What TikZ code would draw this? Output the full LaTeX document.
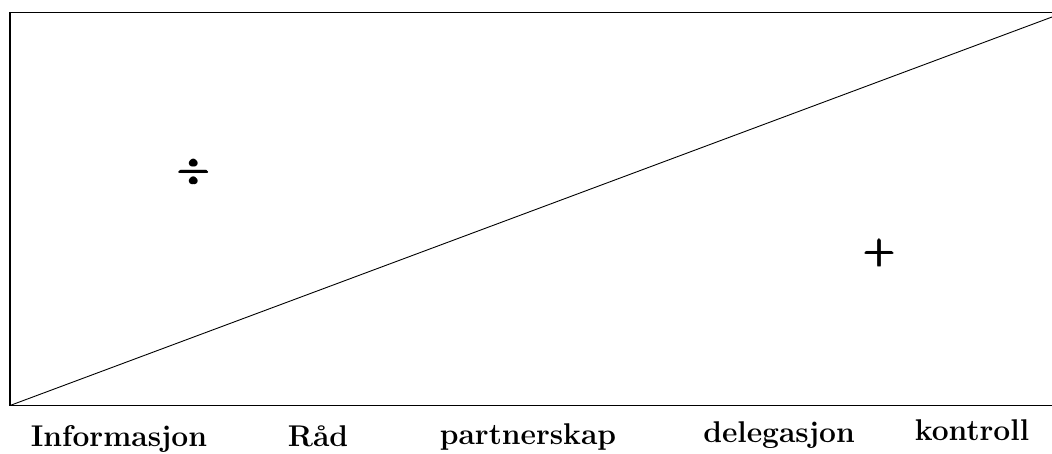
\documentclass[tikz,border=0pt]{standalone}
\usepackage{amsmath}
\usepackage{tikz}

\begin{document}
\begin{tikzpicture}[x=1pt,y=-1pt]
\tikzstyle{every node}+=[inner sep=0pt]
\tikzstyle{scalelabel}=[anchor=base,font=\fontsize{30}{32}\selectfont\bfseries]
\tikzstyle{signmark}=[font=\LARGE\boldmath,scale=2.1]
\useasboundingbox (0,0) rectangle (1052,453);
\coordinate (bl) at (10,405.5);
\coordinate (tr) at (1054,12.5);
\coordinate (tip) at (1052,17);
\draw [black,line width=1.6pt] (bl) rectangle (tr);
\draw [black,line width=0.9pt] (bl) -- (tip);
\node (minus) at (195,172) [signmark] {$\pmb{\div}$};
\node (plus) at (880,253) [signmark] {$\pmb{+}$};
\node (info) at (119,446) [scalelabel] {Informasjon};
\node (raad) at (318,446) [scalelabel] {Råd};
\node (partner) at (528,444) [scalelabel] {partnerskap};
\node (deleg) at (779,442) [scalelabel] {delegasjon};
\node (kontr) at (972,440) [scalelabel] {kontroll};
\end{tikzpicture}
\end{document}
